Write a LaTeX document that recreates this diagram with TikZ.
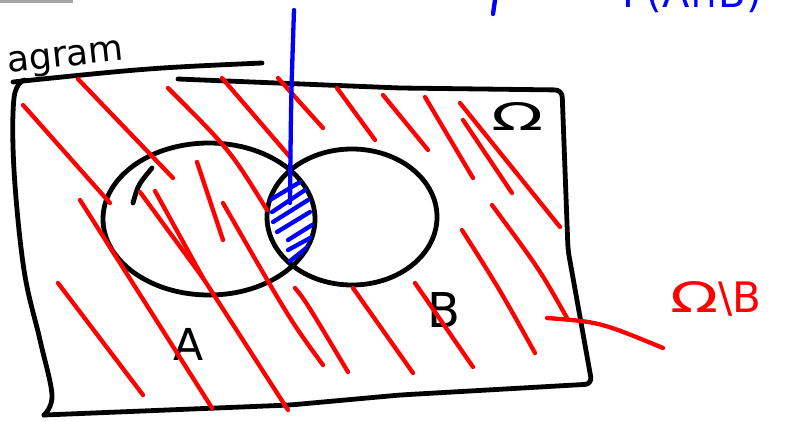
\documentclass[tikz,border=0pt]{standalone}
\usepackage{fontspec}
\setmainfont{DejaVu Sans}
\usetikzlibrary{shapes.geometric}
\definecolor{penred}{RGB}{255, 0, 0}
\definecolor{penblue}{RGB}{0, 0, 255}

\begin{document}
\begin{tikzpicture}[x=1pt, y=-1pt,
    ink/.style={draw=black, line width=4.8pt, line cap=round, line join=round},
    hatch/.style={draw=penred, line width=4.3pt, line cap=round, line join=round},
    shade/.style={draw=penblue, line width=4.3pt, line cap=round, line join=round},
    setbox/.style={ellipse, draw=black, line width=4.8pt, inner sep=0pt},
    hand/.style={inner sep=0pt, font=\fontsize{40}{40}\selectfont}
]
\useasboundingbox (0,0) rectangle (802,421);
\clip (0,0) rectangle (802,421);
\fill[black!35] (0,0) rectangle (73,3);

% sample space
\draw[ink] (13,82) .. controls (150,68) .. (262,63);
\draw[ink] plot[smooth, tension=0.6] coordinates {(24,80) (14,98) (14,170) (24,270) (40,340) (52,395) (44,415)};
\draw[ink, rounded corners=7pt] (44,415) -- (290,405) -- (400,395) -- (592,384) -- (568,250) -- (562,90) -- (400,88) -- (178,79);

% the two sets
\node[setbox, minimum width=212pt, minimum height=152pt] (setA) at (209,219) {};
\node[setbox, minimum width=170pt, minimum height=136pt] (setB) at (352,217) {};
\draw[ink] (133,203) .. controls (138,185) .. (152,168);

\node[hand, font=\fontsize{44}{44}\selectfont] (labA) at (189,344) {A};
\node[hand, font=\fontsize{48}{48}\selectfont] (labB) at (444,310) {B};
\node[hand, font=\fontsize{38}{38}\selectfont] (omega) at (518,116) {\scalebox{1.8}[1]{Ω}};
\node[hand, font=\fontsize{36}{36}\selectfont, rotate=6] (title) at (66,60) {agram};

% complement of B
\draw[hatch] (23,105) -- (110,203);
\draw[hatch] (78,79) -- (173,178);
\draw[hatch] (168,88) .. controls (230,150) .. (267,210);
\draw[hatch] (222,78) -- (290,157);
\draw[hatch] (278,78) -- (323,128);
\draw[hatch] (337,88) -- (375,140);
\draw[hatch] (383,95) -- (428,150);
\draw[hatch] (425,97) -- (473,178);
\draw[hatch] (460,103) -- (560,227);
\draw[hatch] (463,120) -- (512,193);
\draw[hatch] (492,205) .. controls (540,270) .. (567,318);
\draw[hatch] (462,230) .. controls (500,290) .. (535,353);
\draw[hatch] (80,200) -- (212,408);
\draw[hatch] (58,283) -- (143,395);
\draw[hatch] (140,192) -- (203,278);
\draw[hatch] (155,191) -- (203,278) -- (288,410);
\draw[hatch] (197,162) -- (223,240);
\draw[hatch] (223,203) .. controls (290,320) .. (323,365);
\draw[hatch] (295,288) .. controls (305,300) .. (348,372);
\draw[hatch] (353,288) -- (413,373);
\draw[hatch] (415,283) -- (473,367);

\coordinate (ptr) at (547,318);
\coordinate (ptrend) at (663,348);
\draw[hatch] (ptr) .. controls (600,322) .. (ptrend);
\node[hand, text=penred, font=\fontsize{42}{42}\selectfont] (diff) at (716,299) {\scalebox{1.5}[1]{Ω}\textbackslash B};

% intersection
\begin{scope}
\clip (setA.center) ellipse [x radius=106pt, y radius=76pt];
\clip (setB.center) ellipse [x radius=85pt, y radius=68pt];
\draw[shade] (270,200) -- (300,182);
\draw[shade] (272,212) -- (305,190);
\draw[shade] (273,222) -- (308,200);
\draw[shade] (277,232) -- (310,212);
\draw[shade] (288,240) -- (312,225);
\draw[shade] (288,250) -- (312,237);
\draw[shade] (285,265) -- (310,245);
\end{scope}

\coordinate (tip) at (294,10);
\coordinate (lens) at (290,203);
\draw[shade] (tip) .. controls (291,100) .. (lens);
\draw[shade] (495,0) -- (493,14);
\node[hand, text=penblue, anchor=base] (prob) at (692,7) {P(A∩B)};
\end{tikzpicture}
\end{document}
